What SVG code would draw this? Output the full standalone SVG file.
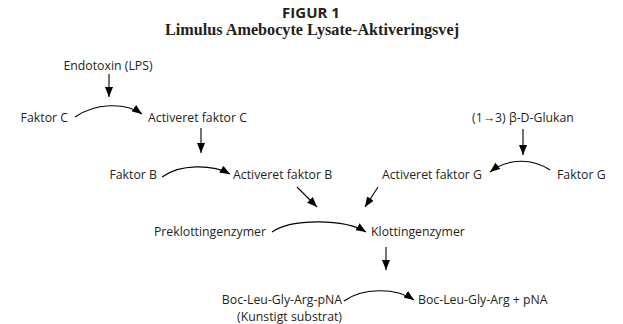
<svg xmlns="http://www.w3.org/2000/svg" width="623" height="324" viewBox="0 0 623 324">
<defs>
<marker id="ah" viewBox="0 0 10 8" refX="10" refY="4" markerWidth="10" markerHeight="8" markerUnits="userSpaceOnUse" orient="auto">
<path d="M0,0 L10,4 L0,8 Z" fill="#000"/>
</marker>
<style>
.t{font-family:"Open Sans","Liberation Sans",sans-serif;font-size:12.3px;fill:#231f20}
.c{fill:none;stroke:#000;stroke-width:1.1;marker-end:url(#ah)}
</style>
</defs>
<rect width="623" height="324" fill="#fff"/>
<g id="title">
<text x="311" y="18" text-anchor="middle" font-family="'Open Sans','Liberation Sans',sans-serif" font-weight="bold" font-size="15" fill="#231f20">FIGUR 1</text>
<text x="312" y="35" text-anchor="middle" font-family="'Liberation Serif',serif" font-weight="bold" font-size="16.2" fill="#231f20">Limulus Amebocyte Lysate-Aktiveringsvej</text>
</g>
<g id="endotoxin"><text class="t" x="108" y="70" text-anchor="middle">Endotoxin (LPS)</text></g>
<g id="faktorC"><text class="t" x="68" y="122" text-anchor="end">Faktor C</text></g>
<g id="aktfaktorC"><text class="t" x="148" y="122">Activeret faktor C</text></g>
<g id="faktorB"><text class="t" x="157" y="179" text-anchor="end">Faktor B</text></g>
<g id="aktfaktorB"><text class="t" x="233" y="179">Activeret faktor B</text></g>
<g id="glukan"><text class="t" x="523" y="122" text-anchor="middle">(1→3) β-D-Glukan</text></g>
<g id="faktorG"><text class="t" x="557" y="179">Faktor G</text></g>
<g id="aktfaktorG"><text class="t" x="482" y="179" text-anchor="end">Activeret faktor G</text></g>
<g id="preklot"><text class="t" x="266" y="236" text-anchor="end">Preklottingenzymer</text></g>
<g id="klot"><text class="t" x="371" y="236">Klottingenzymer</text></g>
<g id="substrat"><text class="t" x="342" y="304" text-anchor="end">Boc-Leu-Gly-Arg-pNA</text><text class="t" x="342" y="321" text-anchor="end">(Kunstigt substrat)</text></g>
<g id="produkt"><text class="t" x="418" y="304">Boc-Leu-Gly-Arg + pNA</text></g>
<g id="connectors">
<path class="c" d="M109,74 L109,97"/>
<path class="c" d="M75,117 C95,103 125,102 142,114"/>
<path class="c" d="M201,128 L201,153"/>
<path class="c" d="M162,177 C180,164 212,164 230,174"/>
<path class="c" d="M523,129 L523,155"/>
<path class="c" d="M550,170 C532,158 508,158 490,172"/>
<path class="c" d="M297,187 L317,207"/>
<path class="c" d="M378,187 L365,207"/>
<path class="c" d="M272,232 C292,218 345,219 366,232"/>
<path class="c" d="M386,247 L386,270"/>
<path class="c" d="M344,301 C362,288 395,287 414,300"/>
</g>
</svg>
